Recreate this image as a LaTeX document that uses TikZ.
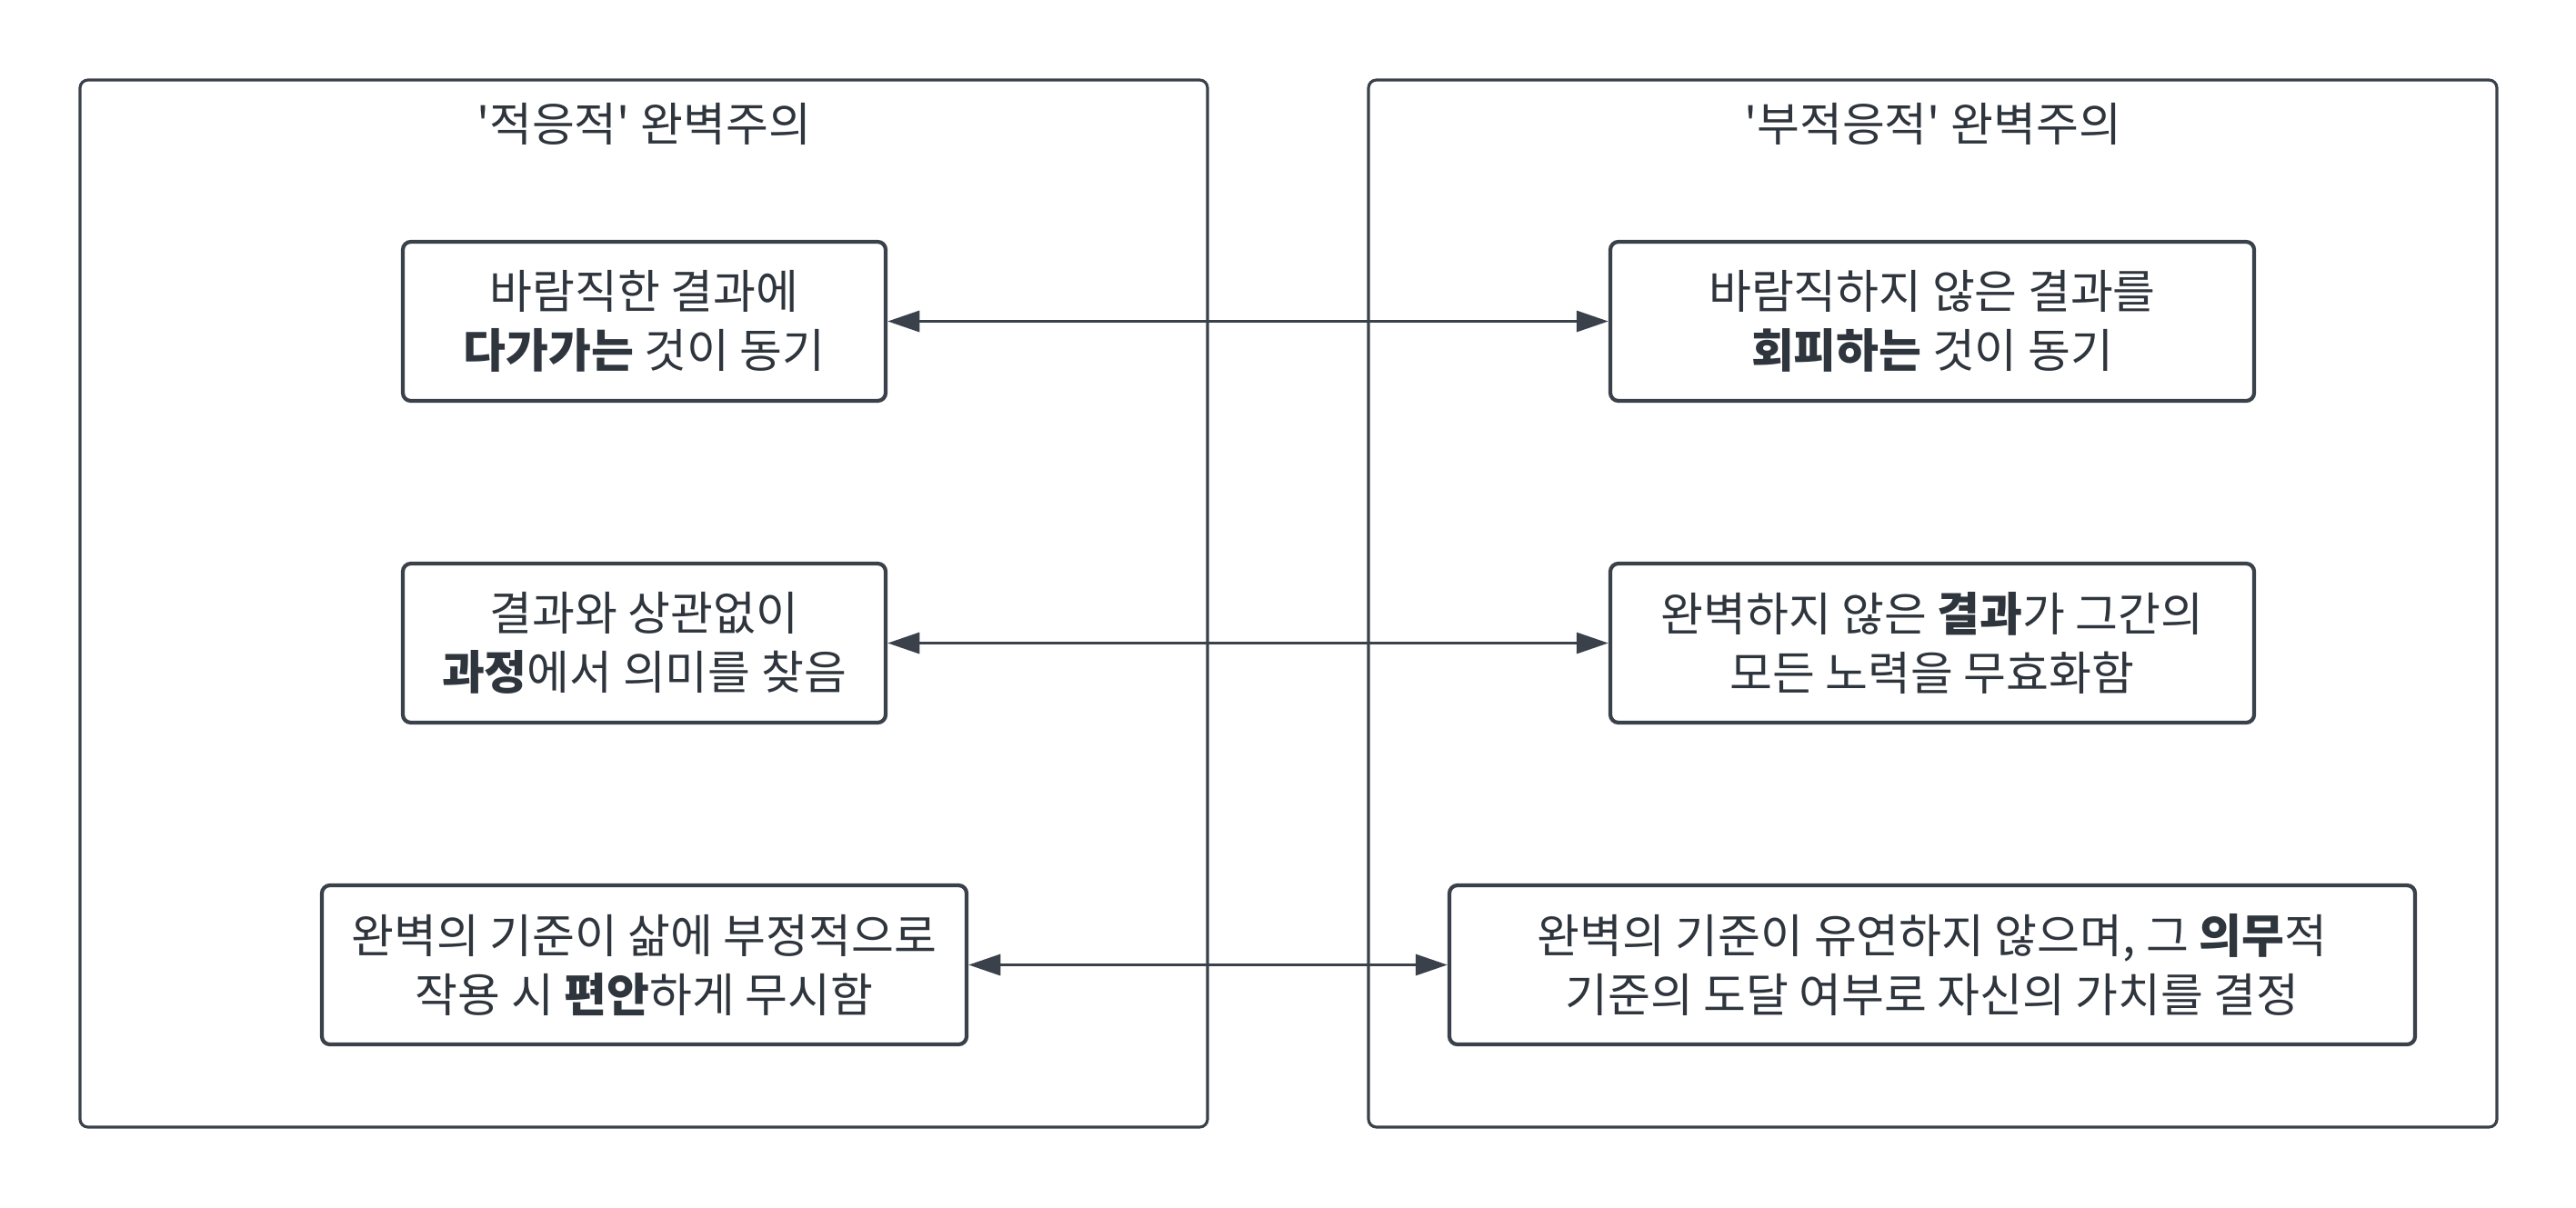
\documentclass[tikz,border=0pt]{standalone}
\usepackage{fontspec}
\setmainfont{Noto Sans CJK KR}
\usepackage{tikz}
\usetikzlibrary{arrows.meta,positioning}

\definecolor{inkline}{HTML}{3A414A}
\definecolor{inktext}{HTML}{2F353D}

\tikzset{
  panel/.style={draw=inkline,line width=0.9pt,rounded corners=2.5pt,inner sep=0pt},
  card/.style={draw=inkline,line width=1.2pt,rounded corners=2.5pt,align=center,
               minimum height=1.75cm,inner sep=0pt,text=inktext},
  paneltitle/.style={text=inktext,inner sep=0pt},
  link/.style={{Triangle[length=10pt,width=6.5pt]}-{Triangle[length=10pt,width=6.5pt]},
               draw=inkline,line width=1.1pt}
}

\begin{document}
\begin{tikzpicture}[font=\fontsize{14.5}{18.5}\selectfont]
  \useasboundingbox (0,0) rectangle (28.33,-13.28);
  % two panels
  \node[panel,minimum width=12.40cm,minimum height=11.52cm] (adapt) at (7.08,-6.64) {};
  \node[panel,minimum width=12.41cm,minimum height=11.52cm] (maladapt) at (21.255,-6.64) {};
  \node[paneltitle] (adapttitle) at (7.08,-1.36)
    {\textquotesingle 적응적\textquotesingle{} 완벽주의};
  \node[paneltitle] (maladapttitle) at (21.255,-1.36)
    {\textquotesingle 부적응적\textquotesingle{} 완벽주의};
  % left cards
  \node[card,minimum width=5.31cm] (goal) at (7.085,-3.535)
    {바람직한 결과에\\\textbf{다가가는} 것이 동기};
  \node[card,minimum width=5.31cm] (process) at (7.085,-7.075)
    {결과와 상관없이\\\textbf{과정}에서 의미를 찾음};
  \node[card,minimum width=7.09cm] (ignore) at (7.085,-10.615)
    {완벽의 기준이 삶에 부정적으로\\작용 시 \textbf{편안}하게 무시함};
  % right cards
  \node[card,minimum width=7.08cm] (avoid) at (21.25,-3.535)
    {바람직하지 않은 결과를\\\textbf{회피하는} 것이 동기};
  \node[card,minimum width=7.08cm] (result) at (21.25,-7.075)
    {완벽하지 않은 \textbf{결과}가 그간의\\모든 노력을 무효화함};
  \node[card,minimum width=10.62cm] (duty) at (21.25,-10.615)
    {완벽의 기준이 유연하지 않으며, 그 \textbf{의무}적\\기준의 도달 여부로 자신의 가치를 결정};
  % links
  \draw[link] (goal) -- (avoid);
  \draw[link] (process) -- (result);
  \draw[link] (ignore) -- (duty);
\end{tikzpicture}
\end{document}
